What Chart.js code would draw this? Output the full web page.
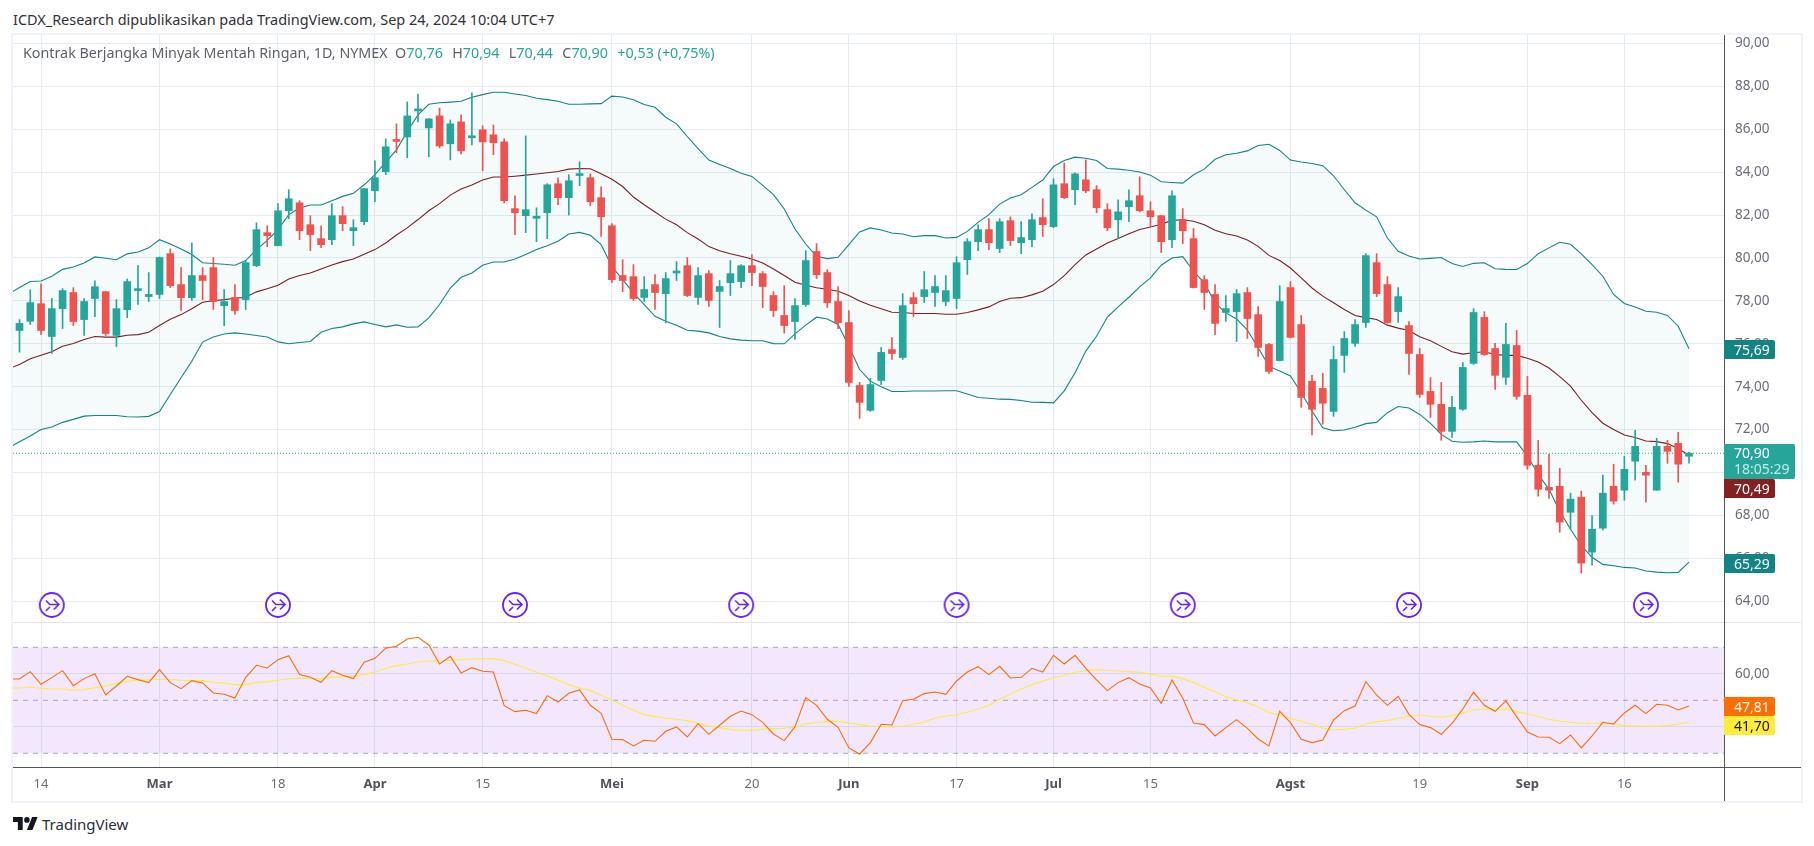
<!DOCTYPE html>
<html>
<head>
<meta charset="utf-8">
<title>Kontrak Berjangka Minyak Mentah Ringan</title>
<script src="https://cdn.jsdelivr.net/npm/chart.js@4"></script>
<style>
  html, body { margin: 0; padding: 0; background: #fff; overflow: hidden; }
  body { width: 1814px; height: 846px; position: relative; font-family: "Noto Sans", sans-serif; }
  canvas { position: absolute; left: 13px; display: block; }
  #priceChart { top: 35px; }
  #rsiChart { top: 623px; }
  .txt { position: absolute; white-space: nowrap; font-size: 14.3px; line-height: 18px; }
  .bar { position: absolute; background: #f0f3fa; }
  .tag { position: absolute; left: 1724px; width: 51px; height: 19px; line-height: 19px; font-size: 14px;
         box-sizing: border-box; padding-left: 10px; white-space: nowrap;
         color: #fff; text-align: left; border-radius: 0 2px 2px 0; }
  .g { color: #26a69a; }
</style>
</head>
<body>
<div class="txt" style="left:13px;top:11px;color:#2e3138;font-size:14.45px;">ICDX_Research dipublikasikan pada TradingView.com, Sep 24, 2024 10:04 UTC+7</div>

<canvas id="priceChart" width="1788" height="588"></canvas>
<canvas id="rsiChart" width="1788" height="179"></canvas>

<div class="bar" style="left:11px;top:33px;width:1792px;height:2px;"></div>
<div class="bar" style="left:11px;top:801px;width:1792px;height:2px;"></div>
<div class="bar" style="left:11px;top:33px;width:2px;height:770px;"></div>
<div class="bar" style="left:1801px;top:33px;width:2px;height:770px;"></div>
<div class="bar" style="left:13px;top:622px;width:1788px;height:1px;background:#e0e3eb;"></div>
<div class="bar" style="left:1724px;top:35px;width:1px;height:766px;background:#50535e;"></div>
<div class="bar" style="left:13px;top:767px;width:1788px;height:1px;background:#50535e;"></div>

<div class="txt" style="left:23px;top:44px;color:#5d606b;">Kontrak Berjangka Minyak Mentah Ringan, 1D, NYMEX&nbsp; O<span class="g" style="margin-right:2px;">70,76</span>&nbsp; H<span class="g" style="margin-right:2px;">70,94</span>&nbsp; L<span class="g" style="margin-right:2px;">70,44</span>&nbsp; C<span class="g" style="margin-right:2px;">70,90</span>&nbsp; <span class="g">+0,53 (+0,75%)</span></div>

<div class="tag" style="top:340px;background:#138484;">75,69</div>
<div class="tag" style="top:444px;width:71px;height:35px;line-height:16px;padding-top:1px;background:#26a69a;">70,90<br><span style="opacity:.75">18:05:29</span></div>
<div class="tag" style="top:479px;background:#852022;">70,49</div>
<div class="tag" style="top:554px;background:#138484;">65,29</div>
<div class="tag" style="top:697px;background:#ff6d00;">47,81</div>
<div class="tag" style="top:716px;background:#ffeb3b;color:#131722;">41,70</div>

<svg style="position:absolute;left:13px;top:817px;" width="25" height="13" viewBox="0 4 36 18" preserveAspectRatio="none">
  <path fill="#131722" d="M14 22H7V11H0V4h14v18zM28 22h-8l7.5-18h8L28 22z"/><circle fill="#131722" cx="20" cy="8" r="4"/>
</svg>
<div class="txt" style="left:42px;top:815px;font-size:15px;color:#2a2e39;">TradingView</div>

<script>
// bars, Feb 12 to Sep 24 2024
const opens = [
  76.62,77.05,77.87,76.34,77.64,78.39,77.13,78.11,78.43,76.39,
  77.59,78.48,78.20,78.30,80.20,78.76,78.15,79.18,79.55,77.78,
  78.16,78.06,79.64,81.18,80.57,82.20,82.57,81.55,80.90,80.85,
  81.97,81.27,81.69,83.13,84.02,85.50,85.64,86.85,86.06,86.62,
  85.32,86.34,85.60,85.97,85.74,85.41,82.30,81.97,81.85,82.11,
  83.46,82.81,83.84,83.74,82.81,81.50,79.18,79.13,78.16,78.76,
  78.34,79.30,79.64,78.16,79.27,78.44,78.85,78.90,79.64,79.27,
  78.25,77.32,77.04,77.83,80.30,79.32,77.97,76.99,74.06,72.90,
  74.29,75.73,75.36,78.15,78.20,78.39,77.97,78.11,79.92,80.76,
  81.32,80.44,81.74,80.71,80.85,81.88,81.46,83.46,83.18,83.64,
  83.18,82.25,81.78,82.39,82.90,82.20,81.97,80.85,81.78,80.90,
  78.99,78.30,77.46,77.50,78.39,77.36,75.97,75.22,78.62,76.90,
  74.25,73.92,72.85,75.46,76.02,76.99,79.78,78.76,77.50,76.85,
  75.50,73.78,73.18,71.92,72.95,75.09,77.23,75.78,74.44,75.92,
  73.60,70.34,69.31,69.36,68.15,68.85,66.29,67.41,69.36,69.18,
  70.53,70.01,69.18,71.22,71.36,70.76
];
const highs = [
  77.13,78.52,78.80,78.11,78.57,78.62,78.11,78.94,78.45,78.06,
  79.02,79.64,79.32,80.04,80.42,79.55,80.71,79.55,80.02,78.53,
  78.76,79.85,81.64,81.50,82.53,83.18,82.67,81.97,81.50,82.53,
  82.39,81.78,83.25,84.53,85.55,86.25,87.27,87.64,86.50,86.99,
  86.43,86.67,87.69,86.16,86.20,85.55,82.90,85.69,82.34,83.46,
  83.74,83.88,84.48,83.92,83.32,81.60,79.92,79.69,79.13,79.23,
  79.32,79.83,80.02,79.55,79.41,78.95,79.88,79.69,80.16,79.37,
  78.43,78.71,78.11,80.34,80.67,79.46,78.67,77.55,74.20,74.39,
  75.83,76.29,78.34,78.39,79.37,79.18,79.18,80.06,80.90,81.55,
  81.83,81.83,81.92,81.69,82.06,82.76,83.69,84.43,83.97,84.57,
  83.37,82.53,82.71,83.18,83.78,82.62,81.98,83.13,82.30,81.37,
  79.18,78.76,78.25,78.53,78.62,77.74,76.02,78.71,78.90,77.32,
  74.53,74.62,75.88,76.57,77.13,80.20,80.20,79.13,78.62,77.04,
  75.78,74.43,74.20,73.55,75.13,77.64,77.50,76.02,76.95,76.62,
  74.48,71.50,70.85,70.20,69.04,69.13,68.00,69.88,70.39,70.76,
  71.97,70.34,71.60,71.50,71.88,70.94
];
const lows = [
  75.61,76.90,76.43,75.55,76.71,76.85,76.39,77.27,76.39,75.87,
  77.22,77.83,77.97,78.11,78.62,77.55,78.02,78.06,77.60,76.85,
  77.37,77.60,79.60,80.53,80.57,81.83,80.85,80.34,80.48,80.62,
  81.27,80.57,81.55,82.62,83.88,84.90,84.67,86.34,84.72,85.13,
  84.57,84.85,85.27,84.06,84.81,82.57,81.09,81.18,80.76,80.90,
  82.48,82.00,83.37,82.43,81.00,78.85,78.43,78.02,77.97,77.60,
  76.98,78.95,78.20,77.83,77.74,76.76,78.25,78.62,78.71,77.69,
  77.27,76.50,76.20,77.74,79.04,77.69,76.71,74.01,72.52,72.85,
  74.10,75.27,75.27,77.27,77.92,77.74,77.78,77.64,79.23,80.34,
  80.39,80.25,80.57,80.20,80.53,81.00,81.41,82.76,82.48,83.04,
  82.11,81.27,80.90,81.69,82.15,81.46,80.25,80.48,80.67,78.60,
  77.60,76.43,77.04,76.11,76.25,75.41,74.62,75.20,76.28,73.04,
  71.75,72.25,72.62,74.67,75.88,76.76,78.20,76.95,77.00,74.57,
  73.50,72.57,71.50,71.64,72.90,75.04,75.46,73.88,74.11,73.41,
  70.15,68.90,68.80,67.22,67.36,65.32,65.69,67.32,68.53,68.71,
  69.64,68.62,69.17,70.43,69.55,70.44
];
const closes = [
  76.95,77.92,76.62,77.64,78.48,77.04,77.97,78.66,76.48,77.64,
  78.90,78.57,78.30,80.02,78.71,78.15,79.18,78.95,77.97,77.97,
  77.55,79.78,81.32,81.04,82.20,82.76,81.27,81.09,80.62,81.97,
  81.60,81.41,83.23,83.74,85.18,85.43,86.62,86.95,86.48,85.22,
  86.25,84.99,85.69,85.41,85.37,82.67,82.11,82.25,81.93,83.41,
  82.81,83.60,83.88,82.62,81.92,78.99,78.95,78.11,78.53,78.39,
  79.04,79.32,78.25,79.18,78.02,78.67,79.27,79.64,79.32,78.67,
  77.55,76.85,77.78,79.88,79.22,77.92,76.99,74.20,73.27,74.10,
  75.60,75.55,77.78,77.87,78.52,78.67,78.48,79.78,80.76,81.32,
  80.71,81.69,80.81,80.95,81.78,81.55,83.41,82.81,83.92,83.13,
  82.34,81.41,82.15,82.67,82.20,81.92,80.76,82.90,81.27,78.62,
  78.39,76.95,77.64,78.34,77.18,75.83,74.71,77.97,76.30,73.50,
  72.95,73.23,75.27,76.25,76.90,80.11,78.34,76.99,78.20,75.55,
  73.64,73.18,71.92,73.04,74.90,77.46,75.50,74.53,75.97,73.55,
  70.34,69.22,69.18,67.69,68.76,65.78,67.36,69.04,68.67,70.15,
  71.22,69.88,71.22,70.99,70.39,70.90
];

// bollinger bands, first value belongs to the bar just left of the pane
const bbUpper = [
  78.33,
  78.62,78.90,78.93,79.15,79.47,79.58,79.77,80.05,79.99,79.92,
  80.19,80.28,80.47,80.85,80.65,80.42,80.16,79.78,79.74,79.71,
  79.66,79.88,80.39,80.82,81.32,82.02,82.33,82.47,82.47,82.67,
  82.87,83.01,83.41,83.88,84.47,85.04,85.89,86.67,87.16,87.23,
  87.26,87.30,87.49,87.61,87.72,87.72,87.64,87.57,87.44,87.38,
  87.30,87.16,87.16,87.18,87.19,87.54,87.50,87.37,87.15,87.02,
  86.56,86.25,85.66,85.09,84.56,84.36,84.17,83.95,83.80,83.38,
  82.95,82.28,81.35,80.65,80.08,79.97,80.03,80.62,81.21,81.40,
  81.30,81.16,81.12,80.99,81.04,81.04,80.93,80.96,81.24,81.66,
  82.02,82.51,82.79,82.95,83.29,83.63,84.26,84.54,84.70,84.65,
  84.54,84.17,84.14,84.09,84.01,83.86,83.55,83.52,83.49,83.88,
  84.14,84.60,84.81,84.88,84.99,85.24,85.30,85.01,84.56,84.47,
  84.40,84.30,83.83,83.18,82.57,82.23,81.92,80.93,80.31,80.09,
  79.95,79.98,80.02,79.74,79.60,79.75,79.78,79.50,79.47,79.46,
  79.74,80.20,80.47,80.73,80.64,80.19,79.69,79.15,78.30,77.88,
  77.72,77.52,77.47,77.32,76.82,75.77
];
const bbBasis = [
  74.84,
  75.04,75.30,75.47,75.63,75.89,76.01,76.20,76.34,76.31,76.31,
  76.40,76.43,76.54,76.85,77.14,77.36,77.63,77.94,78.01,78.06,
  78.12,78.17,78.42,78.57,78.73,79.02,79.18,79.30,79.49,79.67,
  79.83,79.95,80.17,80.39,80.70,81.07,81.40,81.79,82.20,82.53,
  82.93,83.21,83.40,83.63,83.77,83.77,83.81,83.86,83.91,83.97,
  84.03,84.14,84.17,84.16,83.92,83.67,83.33,82.84,82.48,82.14,
  81.81,81.55,81.18,80.88,80.53,80.34,80.20,80.08,79.95,79.77,
  79.49,79.18,78.87,78.73,78.61,78.54,78.45,78.25,78.00,77.80,
  77.63,77.47,77.46,77.41,77.41,77.41,77.38,77.38,77.46,77.58,
  77.72,77.97,78.12,78.15,78.28,78.45,78.76,79.18,79.69,80.14,
  80.42,80.70,80.91,81.13,81.33,81.44,81.57,81.75,81.78,81.71,
  81.55,81.29,81.13,81.02,80.84,80.54,80.12,79.88,79.53,79.07,
  78.60,78.22,77.91,77.60,77.32,77.22,77.13,76.87,76.73,76.62,
  76.33,76.14,75.88,75.63,75.52,75.58,75.63,75.50,75.46,75.46,
  75.33,75.15,74.87,74.47,74.03,73.37,72.79,72.30,72.01,71.75,
  71.63,71.47,71.44,71.35,71.12,70.80
];
const bbLower = [
  71.16,
  71.44,71.70,72.01,72.12,72.34,72.48,72.63,72.66,72.66,72.66,
  72.60,72.59,72.62,72.84,73.64,74.42,75.19,76.08,76.32,76.46,
  76.51,76.46,76.39,76.32,76.09,76.00,76.06,76.11,76.54,76.71,
  76.79,76.93,77.02,76.90,76.79,76.88,76.77,76.79,77.21,77.83,
  78.60,79.10,79.30,79.66,79.81,79.81,79.95,80.16,80.39,80.57,
  80.78,81.12,81.19,81.06,80.62,79.60,78.99,78.37,77.83,77.28,
  77.05,76.87,76.63,76.59,76.51,76.34,76.23,76.17,76.14,76.14,
  76.01,76.00,76.46,76.87,77.24,77.16,76.90,75.89,74.80,74.26,
  74.00,73.78,73.78,73.80,73.80,73.80,73.81,73.81,73.66,73.50,
  73.46,73.42,73.41,73.36,73.28,73.27,73.25,73.81,74.65,75.66,
  76.35,77.25,77.72,78.17,78.65,79.07,79.66,80.00,80.06,79.38,
  78.84,77.91,77.44,77.16,76.64,75.82,74.96,74.73,74.50,73.72,
  72.87,72.09,71.95,71.98,72.11,72.28,72.34,72.79,73.08,73.01,
  72.71,72.29,71.78,71.46,71.41,71.43,71.47,71.43,71.43,71.43,
  70.77,69.92,69.22,68.20,67.36,66.59,66.05,65.72,65.66,65.58,
  65.55,65.41,65.36,65.33,65.35,65.83
];

const rsiValues = [
  58.05,
  58.05,60.82,56.04,58.55,61.19,55.53,58.18,60.06,52.01,55.41,
  59.06,57.80,56.67,61.57,56.67,54.40,57.42,56.54,52.77,52.26,
  50.88,58.68,63.21,62.20,65.35,66.86,59.69,58.68,56.79,61.19,
  59.43,58.18,64.34,65.85,69.62,70.38,73.14,73.77,70.88,63.71,
  66.60,60.31,62.33,60.94,60.69,47.99,45.72,46.23,44.97,51.76,
  49.37,52.64,53.90,48.11,45.09,35.28,35.16,32.77,34.91,34.53,
  38.30,39.94,36.16,41.20,37.17,40.57,43.96,45.97,44.59,41.70,
  37.30,34.78,40.06,51.00,48.11,42.83,39.81,32.01,29.75,34.03,
  40.94,40.69,49.87,50.38,52.52,53.14,52.26,57.30,60.69,62.70,
  59.69,62.83,58.43,58.68,62.08,60.69,66.98,63.71,66.98,62.08,
  57.67,53.65,56.67,58.55,56.16,54.65,48.87,57.67,50.75,41.45,
  40.82,36.54,39.69,42.70,39.43,35.41,32.77,45.85,41.57,35.28,
  34.03,35.03,42.58,46.10,47.86,57.04,52.01,48.11,51.51,44.72,
  40.82,39.69,37.17,41.32,46.73,53.02,48.11,45.85,49.75,43.84,
  38.05,36.16,36.04,33.65,36.92,32.01,36.54,41.70,41.07,45.22,
  48.11,44.97,48.49,48.11,46.35,47.81
];
const rsiMa = [
  54.53,
  54.65,55.03,54.53,54.28,54.28,53.77,54.03,54.78,55.41,56.29,
  57.17,57.55,57.80,57.92,57.92,57.55,57.42,57.42,56.79,56.54,
  55.91,55.91,56.67,57.04,57.55,58.18,58.43,58.30,58.18,58.68,
  58.81,59.06,59.69,60.69,62.08,63.08,63.71,64.47,64.84,64.84,
  65.09,65.35,65.60,65.72,65.72,64.97,63.58,62.20,60.69,59.18,
  57.55,55.91,54.65,53.65,51.89,50.13,48.11,46.23,44.59,43.84,
  43.21,42.83,42.33,41.32,40.31,39.69,38.93,38.68,38.68,39.06,
  39.31,39.43,39.94,41.07,41.70,41.95,42.08,41.45,40.82,40.31,
  40.19,39.94,40.19,40.94,41.82,43.21,44.09,44.47,45.47,46.73,
  48.11,50.38,52.39,54.28,55.91,57.30,58.43,59.43,60.57,61.19,
  61.57,61.32,61.07,60.82,60.57,59.94,59.06,59.06,58.18,56.67,
  54.91,53.27,51.38,50.13,49.12,47.61,45.35,44.47,43.21,42.08,
  40.94,39.43,38.81,39.06,39.43,41.07,41.95,42.33,43.21,43.96,
  44.47,43.96,43.71,44.21,45.22,46.35,46.73,46.60,46.73,45.72,
  44.84,43.96,42.83,42.08,41.70,41.32,41.32,41.32,41.07,40.44,
  40.31,40.31,40.19,40.44,41.07,41.70
];

const tickBars = [2, 13, 24, 33, 43, 55, 68, 77, 87, 96, 105, 118, 130, 140, 149];
const tickLabels = ['14', 'Mar', '18', 'Apr', '15', 'Mei', '20', 'Jun', '17', 'Jul', '15', 'Agst', '19', 'Sep', '16'];
const priceTicks = [64, 66, 68, 70, 72, 74, 76, 78, 80, 82, 84, 86, 88, 90];
const rsiTicks = [40, 60];
const rsiLevels = [70, 50, 30];
const eventBars = [3, 24, 46, 67, 87, 108, 129, 151];
const eventPrice = 63.83;

const UP = '#26a69a', DOWN = '#ef5350';
const GRID = '#e4ebf1';
const FONT = '"Noto Sans", sans-serif';
const xMin = -0.603, xMax = 158.25;

// band values start one bar earlier than the candles
function shifted(values) {
  return values.map((v, i) => ({ x: i - 1, y: v }));
}
function flat(y) {
  return [{ x: xMin, y: y }, { x: xMax, y: y }];
}
function comma(v) {
  return v.toFixed(2).replace('.', ',');
}

function eventIcon() {
  const c = document.createElement('canvas');
  c.width = 28; c.height = 28;
  const g = c.getContext('2d');
  g.strokeStyle = '#651fff';
  g.fillStyle = '#fff';
  g.lineWidth = 1.8;
  g.beginPath(); g.arc(14, 14, 12, 0, Math.PI * 2); g.fill(); g.stroke();
  g.lineWidth = 1.6;
  g.beginPath();
  g.moveTo(8, 9.5); g.lineTo(12, 13.5); g.lineTo(21, 13.5);
  g.moveTo(16, 8.5); g.lineTo(21, 13.5); g.lineTo(16, 18.5);
  g.moveTo(8, 20); g.lineTo(12, 16);
  g.stroke();
  return c;
}

// fix the axis strips so the panes line up with each other
function noPadding(scale) {
  scale.paddingTop = 0; scale.paddingBottom = 0; scale.paddingLeft = 0; scale.paddingRight = 0;
}
function xScale(showLabels) {
  return {
    type: 'linear', min: xMin, max: xMax, offset: false,
    grid: { color: GRID, drawTicks: false, offset: false },
    border: { display: false },
    afterBuildTicks: ax => { ax.ticks = tickBars.map(v => ({ value: v })); },
    afterFit: ax => { ax.height = showLabels ? 35 : 0; noPadding(ax); },
    ticks: {
      display: showLabels, autoSkip: false, maxRotation: 0, padding: 9,
      callback: v => tickLabels[tickBars.indexOf(v)],
      color: ctx => /\d/.test(tickLabels[ctx.index]) ? '#6a6d78' : '#50535e',
      font: ctx => ({ family: FONT, size: 13, weight: /\d/.test(tickLabels[ctx.index]) ? 'normal' : 'bold' })
    }
  };
}
function yScale(lo, hi, values) {
  return {
    position: 'right', min: lo, max: hi,
    grid: { color: GRID, drawTicks: false },
    border: { display: false },
    afterBuildTicks: ax => { ax.ticks = values.map(v => ({ value: v })); },
    afterFit: ax => { ax.width = 77; noPadding(ax); },
    ticks: { autoSkip: false, align: 'center', crossAlign: 'near', padding: 11, color: '#6a6d78',
      font: { family: FONT, size: 13.5 }, callback: v => comma(v) }
  };
}
function line(values, color, order, extra) {
  return Object.assign({ type: 'line', data: shifted(values), borderColor: color, borderWidth: 1.1,
    pointRadius: 0, tension: 0, fill: false, order: order }, extra || {});
}

Chart.defaults.animation = false;
Chart.defaults.devicePixelRatio = 1;

new Chart(document.getElementById('priceChart'), {
  data: {
    datasets: [
      line(bbUpper, '#138484', 5, { fill: 2, backgroundColor: 'rgba(8,153,129,0.045)' }),
      line(bbBasis, '#801922', 5),
      line(bbLower, '#138484', 5),
      { type: 'line', data: flat(closes[closes.length - 1]), borderColor: UP, borderWidth: 1,
        borderDash: [1, 2], pointRadius: 0, order: 6 },
      { type: 'bar', grouped: false, barThickness: 1, order: 2, borderWidth: 0,
        data: opens.map((o, i) => ({ x: i, y: [lows[i], highs[i]] })),
        backgroundColor: closes.map((c, i) => c >= opens[i] ? UP : DOWN) },
      { type: 'bar', grouped: false, barThickness: 7, minBarLength: 2, order: 1, borderWidth: 0,
        data: opens.map((o, i) => ({ x: i, y: [o, closes[i]] })),
        backgroundColor: closes.map((c, i) => c >= opens[i] ? UP : DOWN) },
      { type: 'scatter', order: 0, pointStyle: eventIcon(),
        data: eventBars.map(b => ({ x: b, y: eventPrice })) }
    ]
  },
  options: {
    responsive: false,
    layout: { padding: 0, autoPadding: false },
    plugins: { legend: { display: false }, tooltip: { enabled: false } },
    events: [],
    scales: { x: xScale(false), y: yScale(62.99, 90.39, priceTicks) }
  }
});

new Chart(document.getElementById('rsiChart'), {
  data: {
    datasets: [
      { type: 'line', data: flat(rsiLevels[0]), order: 5, borderColor: 'rgba(120,123,134,0.6)', borderWidth: 1,
        borderDash: [5, 5], pointRadius: 0, fill: { value: rsiLevels[2] }, backgroundColor: 'rgba(140,30,245,0.105)' },
      { type: 'line', data: flat(rsiLevels[1]), order: 5, borderColor: 'rgba(120,123,134,0.6)', borderWidth: 1,
        borderDash: [5, 5], pointRadius: 0 },
      { type: 'line', data: flat(rsiLevels[2]), order: 5, borderColor: 'rgba(120,123,134,0.6)', borderWidth: 1,
        borderDash: [5, 5], pointRadius: 0 },
      line(rsiMa, '#ffeb3b', 2),
      line(rsiValues, '#ff6d00', 1)
    ]
  },
  options: {
    responsive: false,
    layout: { padding: 0, autoPadding: false },
    plugins: { legend: { display: false }, tooltip: { enabled: false } },
    events: [],
    scales: { x: xScale(true), y: yScale(24.83, 79.17, rsiTicks) }
  }
});
</script>
</body>
</html>
